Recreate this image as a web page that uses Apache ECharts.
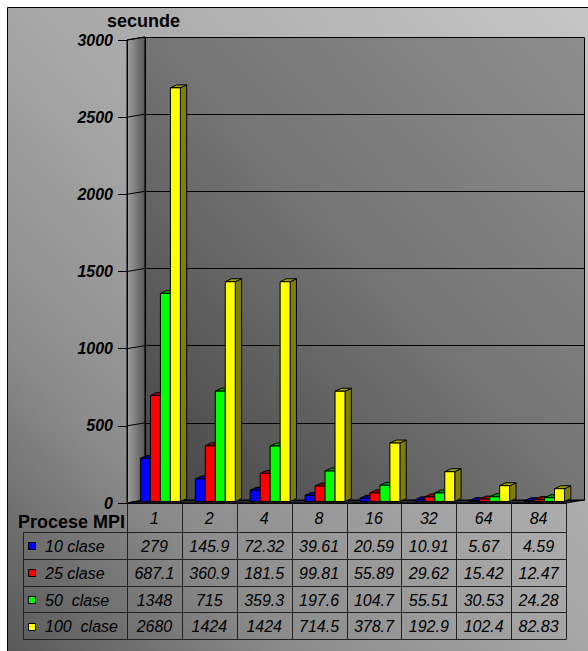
<!DOCTYPE html>
<html><head><meta charset="utf-8">
<script src="https://cdn.jsdelivr.net/npm/echarts@6/dist/echarts.min.js"></script>
<style>html,body{margin:0;padding:0;background:#fff;} #c{width:588px;height:651px;}</style>
</head><body><div id="c"></div>
<script>
// ---- data ----
const categories = ['1','2','4','8','16','32','64','84'];
const seriesNames = ['10 clase','25 clase','50  clase','100  clase'];
const s10 = [279,145.9,72.32,39.61,20.59,10.91,5.67,4.59];
const s25 = [687.1,360.9,181.5,99.81,55.89,29.62,15.42,12.47];
const s50 = [1348,715,359.3,197.6,104.7,55.51,30.53,24.28];
const s100 = [2680,1424,1424,714.5,378.7,192.9,102.4,82.83];
const yTicks = [0,500,1000,1500,2000,2500,3000];
const axisTitle = 'secunde';
const tableTitle = 'Procese MPI';
const seriesValues = [s10,s25,s50,s100];

// ---- styles ----
const faceColors = ['#0000ff','#ff0000','#00ff00','#ffff00'];
const sideColors = ['#000080','#800000','#008000','#808000'];
const topColors  = ['#0000a0','#a00000','#00a000','#a0a000'];
const font = "'Liberation Sans', Arial, sans-serif";
const W=588, H=651, FL=127, FT=40, FR=566, FB=503, DX=18, DY=-3;

function makeRender(si){
  return function(params, api){
    const ci = api.value(0), v = api.value(1);
    const base = api.coord([ci, 0]);
    const top = api.coord([ci, v]);
    const band = api.size([1,0])[0];
    const w = band*0.182;
    const x0 = base[0] - band*0.255 + si*w;
    const yb = base[1] - 1.5, yt = top[1] - 1.5;
    const dx = band*0.115, dy = -3;
    const ln = {stroke:'#000', lineWidth:1};
    return {type:'group', children:[
      {type:'polygon', shape:{points:[[x0+w,yb],[x0+w+dx,yb+dy],[x0+w+dx,yt+dy],[x0+w,yt]]}, style:Object.assign({fill:sideColors[si]}, ln)},
      {type:'polygon', shape:{points:[[x0,yt],[x0+dx,yt+dy],[x0+w+dx,yt+dy],[x0+w,yt]]}, style:Object.assign({fill:topColors[si]}, ln)},
      {type:'rect', shape:{x:x0, y:yt, width:w, height:yb-yt}, style:Object.assign({fill:faceColors[si]}, ln)}
    ]};
  };
}

const chart = echarts.init(document.getElementById('c'), null, {renderer:'svg'});
const option = {
  animation:false,
  grid:[
    {left:FL, top:FT, right:W-FR, bottom:H-FB, outerBoundsMode:'none'},
    {left:FL+DX, top:FT+DY, right:W-FR-DX, bottom:H-FB-DY, outerBoundsMode:'none'}
  ],
  xAxis:[
    {type:'category', data:categories, gridIndex:0, boundaryGap:true,
     axisLine:{show:true, lineStyle:{color:'#000', width:1}}, axisTick:{show:false},
     axisLabel:{show:false}, splitLine:{show:false}},
    {type:'category', data:categories, gridIndex:1, show:false}
  ],
  yAxis:[
    {type:'value', gridIndex:0, min:yTicks[0], max:yTicks[yTicks.length-1], interval:500,
     axisLine:{show:true, lineStyle:{color:'#000', width:1}},
     axisTick:{show:true, length:9, lineStyle:{color:'#000', width:1}},
     axisLabel:{margin:14, color:'#000', fontFamily:font, fontSize:16, fontWeight:'bold', fontStyle:'italic',
       formatter: v => String(v)},
     splitLine:{show:false}},
    {type:'value', gridIndex:1, min:yTicks[0], max:yTicks[yTicks.length-1], interval:500,
     axisLine:{show:false}, axisTick:{show:false}, axisLabel:{show:false},
     splitLine:{show:true, lineStyle:{color:'#000', width:1}}}
  ],
  series: seriesValues.map((vals, si)=>({
    type:'custom', name:seriesNames[si], xAxisIndex:0, yAxisIndex:0, z:3,
    data: vals.map((v,i)=>[i,v]), renderItem: makeRender(si)
  }))
};
chart.setOption(option);

// ---- decoration & data table ----
const cx = categories.map((c,i)=>chart.convertToPixel({xAxisIndex:0}, i));
const band = (cx[cx.length-1]-cx[0])/(categories.length-1);
const yOf = v => chart.convertToPixel({yAxisIndex:0}, v);
const G = [];
G.push({type:'rect', z:-10, shape:{x:7.5, y:7.5, width:W-5, height:H-5},
  style:{fill:new echarts.graphic.LinearGradient(0,1,1,0,[
    {offset:0,color:'#585858'},{offset:0.25,color:'#8c8c8c'},{offset:0.5,color:'#a6a6a6'},{offset:1,color:'#c6c6c6'}]),
    stroke:'#000', lineWidth:1}});
G.push({type:'rect', z:-6, shape:{x:FL+DX+0.5, y:FT+DY+0.5, width:FR-FL, height:FB-FT},
  style:{fill:new echarts.graphic.LinearGradient(0,1,1,0,[
    {offset:0,color:'#454545'},{offset:0.5,color:'#747474'},{offset:1,color:'#8e8e8e'}]),
    stroke:'#000', lineWidth:1}});
G.push({type:'polygon', z:-5, shape:{points:[[FL,FT],[FL+DX,FT+DY],[FL+DX,FB+DY],[FL,FB]]},
  style:{fill:new echarts.graphic.LinearGradient(0,0,1,0,[
    {offset:0,color:'#a0a0a0'},{offset:1,color:'#565656'}]), stroke:'#000', lineWidth:1}});
yTicks.forEach(v=>{
  const y = yOf(v);
  G.push({type:'line', z:-4, shape:{x1:FL, y1:y, x2:FL+DX, y2:y+DY}, style:{stroke:'#000', lineWidth:1}});
});
G.push({type:'polygon', z:-4, shape:{points:[[FL,FB],[FR,FB],[FR+DX,FB+DY],[FL+DX,FB+DY]]},
  style:{fill:'#2e2e2e', stroke:'#000', lineWidth:1}});

// titles
G.push({type:'text', z:10, x:107, y:21, style:{text:axisTitle, font:"bold 18px "+font, fill:'#000', verticalAlign:'middle', align:'left'}});
G.push({type:'text', z:10, x:18, y:522, style:{text:tableTitle, font:"bold 18px "+font, fill:'#000', verticalAlign:'middle', align:'left'}});

// table
const TL=23, TT=532, RH=26.8, HT=FB;
const bounds = [];
for (let k=0;k<=categories.length;k++) bounds.push(cx[0]-band/2 + k*band);
const TR = bounds[bounds.length-1];
const TB = TT + RH*seriesNames.length;
const lineStyle = {stroke:'#222', lineWidth:1};
bounds.forEach(x=>{
  G.push({type:'line', z:10, shape:{x1:Math.round(x)+0.5, y1:HT, x2:Math.round(x)+0.5, y2:TB}, style:lineStyle});
});
G.push({type:'line', z:10, shape:{x1:TL+0.5, y1:TT, x2:TL+0.5, y2:TB}, style:lineStyle});
for (let r=0;r<=seriesNames.length;r++){
  const y = Math.round(TT + r*RH)+0.5;
  G.push({type:'line', z:10, shape:{x1:TL, y1:y, x2:TR+0.5, y2:y}, style:lineStyle});
}
categories.forEach((c,i)=>{
  G.push({type:'text', z:10, x:cx[i], y:(HT+TT)/2+1, style:{text:c, font:"italic 16px "+font, fill:'#000', align:'center', verticalAlign:'middle'}});
});
seriesNames.forEach((nm, si)=>{
  const yc = TT + RH*si + RH/2 + 1;
  G.push({type:'rect', z:10, shape:{x:28.5, y:Math.round(yc-4)+0.5, width:7, height:7}, style:{fill:faceColors[si], stroke:'#000', lineWidth:1}});
  G.push({type:'text', z:10, x:45, y:yc, style:{text:nm, font:"italic 16px "+font, fill:'#000', align:'left', verticalAlign:'middle'}});
  seriesValues[si].forEach((v,i)=>{
    G.push({type:'text', z:10, x:cx[i], y:yc, style:{text:String(v), font:"italic 16px "+font, fill:'#000', align:'center', verticalAlign:'middle'}});
  });
});
chart.setOption({graphic:{elements:G}});
</script>
</body></html>
